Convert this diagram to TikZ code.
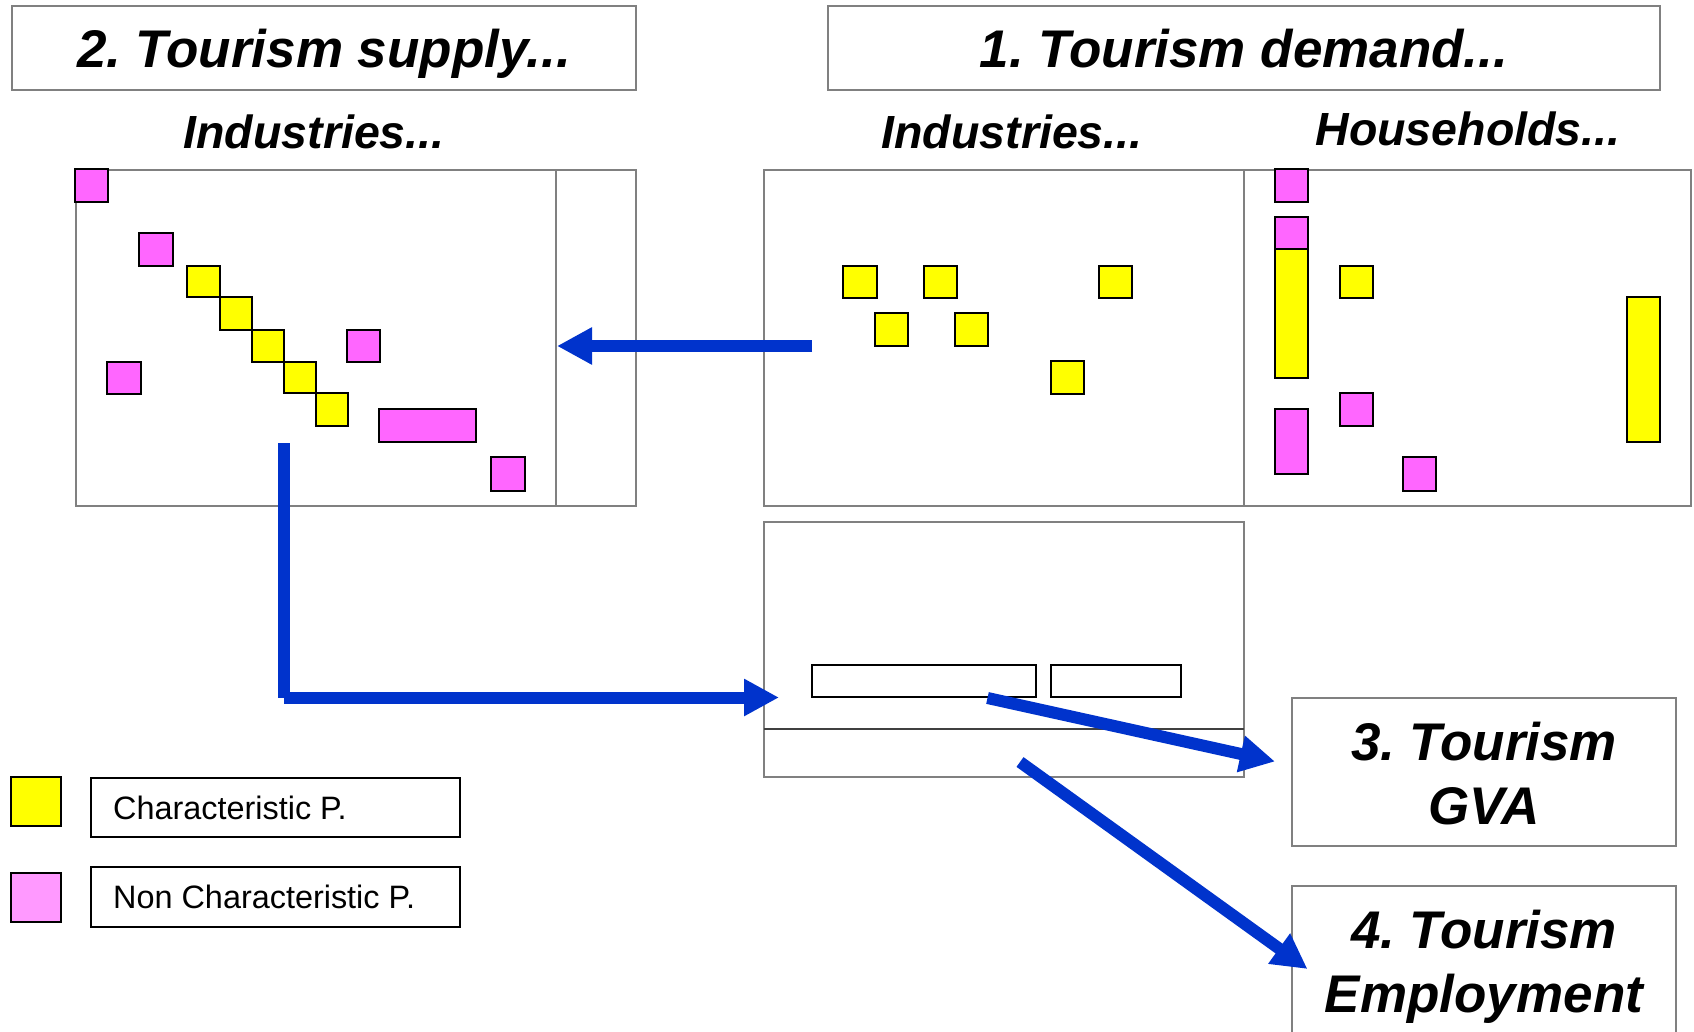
\documentclass[tikz,border=0pt]{standalone}
\usepackage{fontspec}
\setmainfont{Liberation Sans}
\usetikzlibrary{arrows.meta}
\definecolor{cyel}{HTML}{FFFF00}
\definecolor{cpink}{HTML}{FF66FF}
\definecolor{lpink}{HTML}{FF99FF}
\definecolor{cblue}{HTML}{0033CC}
\definecolor{cgray}{HTML}{808080}
\frenchspacing
\begin{document}
\begin{tikzpicture}[x=1pt,y=-1pt,
  frame/.style={draw=cgray, line width=1.8pt},
  ycell/.style={draw=black, line width=2.4pt, fill=cyel},
  pcell/.style={draw=black, line width=2.4pt, fill=cpink},
  legbox/.style={draw=black, line width=2.6pt},
  flow/.style={draw=cblue, line width=12pt, line cap=butt, -{Triangle[length=35pt,width=35pt]}},
  shaft/.style={draw=cblue, line width=12pt, line cap=butt},
  bigtxt/.style={font=\fontsize{53}{64}\selectfont\bfseries\itshape, anchor=base, inner sep=0pt},
  subtxt/.style={font=\fontsize{46.5}{56}\selectfont\bfseries\itshape, anchor=base, inner sep=0pt},
  legtxt/.style={font=\fontsize{32.4}{38}\selectfont, anchor=base west, inner sep=0pt}
]
\useasboundingbox (0,0) rectangle (1694,1032);
\fill[white] (0,0) rectangle (1694,1032);

% title boxes
\node[frame, inner sep=0pt, minimum width=624pt, minimum height=84pt] (supT) at (324,48) {};
\node[bigtxt] (supTt) at (324,68) {2. Tourism supply...};
\node[frame, inner sep=0pt, minimum width=832pt, minimum height=84pt] (demT) at (1244,48) {};
\node[bigtxt] (demTt) at (1244,68) {1. Tourism demand...};

% sub headings
\node[subtxt] (supInd) at (314,149) {Industries...};
\node[subtxt] (demInd) at (1012,149) {Industries...};
\node[subtxt] (demHH) at (1468,146) {Households...};

% supply matrix
\draw[frame] (76,170) rectangle (636,506);
\draw[frame] (556,170) -- (556,506);
\draw[pcell] (75,169) rectangle (108,202);
\draw[pcell] (139,233) rectangle (173,266);
\draw[ycell] (187,266) rectangle (220,297);
\draw[ycell] (220,297) rectangle (252,330);
\draw[ycell] (252,330) rectangle (284,362);
\draw[ycell] (284,362) rectangle (316,393);
\draw[ycell] (316,393) rectangle (348,426);
\draw[pcell] (347,330) rectangle (380,362);
\draw[pcell] (107,362) rectangle (141,394);
\draw[pcell] (379,409) rectangle (476,442);
\draw[pcell] (491,457) rectangle (525,491);

% demand matrix
\draw[frame] (764,170) rectangle (1691,506);
\draw[frame] (1244,170) -- (1244,506);
\draw[ycell] (843,266) rectangle (877,298);
\draw[ycell] (924,266) rectangle (957,298);
\draw[ycell] (1099,266) rectangle (1132,298);
\draw[ycell] (875,313) rectangle (908,346);
\draw[ycell] (955,313) rectangle (988,346);
\draw[ycell] (1051,361) rectangle (1084,394);
% households
\draw[pcell] (1275,169) rectangle (1308,202);
\draw[pcell] (1275,217) rectangle (1308,249);
\draw[ycell] (1275,249) rectangle (1308,378);
\draw[ycell] (1340,266) rectangle (1373,298);
\draw[ycell] (1627,297) rectangle (1660,442);
\draw[pcell] (1275,409) rectangle (1308,474);
\draw[pcell] (1340,393) rectangle (1373,426);
\draw[pcell] (1403,457) rectangle (1436,491);

% middle (value added) box
\draw[frame] (764,522) rectangle (1244,777);
\draw[draw=black!75, line width=2pt] (764,729) -- (1244,729);
\draw[draw=black, line width=2.4pt] (812,665) rectangle (1036,697);
\draw[draw=black, line width=2.4pt] (1051,665) rectangle (1181,697);

% result boxes
\node[frame, inner sep=0pt, minimum width=384pt, minimum height=148pt] (gva) at (1484,772) {};
\node[bigtxt] (gva1) at (1484,760.5) {3. Tourism};
\node[bigtxt] (gva2) at (1484,824) {GVA};
\node[frame, inner sep=0pt, minimum width=384pt, minimum height=148pt] (emp) at (1484,960) {};
\node[bigtxt] (emp1) at (1484,948.5) {4. Tourism};
\node[bigtxt] (emp2) at (1484,1012) {Employment};

% legend
\draw[draw=black, line width=2.4pt, fill=cyel] (11,777) rectangle (61,826);
\draw[draw=black, line width=2.4pt, fill=lpink] (11,873) rectangle (61,922);
\node[legbox, inner sep=0pt, minimum width=369pt, minimum height=59pt] (lg1) at (275.5,807.5) {};
\node[legtxt] (lg1t) at (113,819) {Characteristic P.};
\node[legbox, inner sep=0pt, minimum width=369pt, minimum height=60pt] (lg2) at (275.5,897) {};
\node[legtxt] (lg2t) at (113,908.5) {Non Characteristic P.};

% arrows
\coordinate (a1s) at (812,346);
\coordinate (a1e) at (557,346);
\draw[flow] (a1s) -- (a1e);

\coordinate (a2s) at (284,443);
\coordinate (a2c) at (284,697.5);
\coordinate (a2e) at (779,697.5);
\draw[shaft] (a2s) -- (a2c);
\draw[flow] (a2c) -- (a2e);

\coordinate (a3s) at (987.5,698);
\coordinate (a3e) at (1275,761.5);
\draw[flow] (a3s) -- (a3e);

\coordinate (a4s) at (1020,762);
\coordinate (a4e) at (1307.5,969);
\draw[flow] (a4s) -- (a4e);
\end{tikzpicture}
\end{document}
